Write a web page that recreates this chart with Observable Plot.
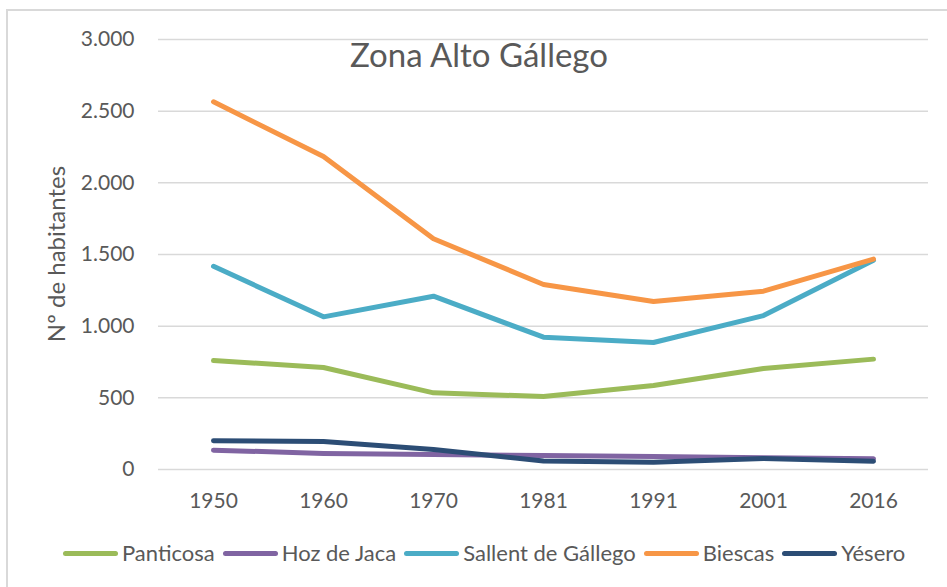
<!DOCTYPE html>
<html>
<head>
<meta charset="utf-8">
<script src="https://cdn.jsdelivr.net/npm/d3@7"></script>
<script src="https://cdn.jsdelivr.net/npm/@observablehq/plot@0.6"></script>
<style>
  html, body { margin: 0; padding: 0; background: #fff; overflow: hidden; }
  #wrap { position: relative; width: 947px; height: 587px; font-family: Lato, "Open Sans", sans-serif; color: #595959; }
  #frame { position: absolute; left: 6px; top: 9px; width: 960px; height: 600px; border-left: 2px solid #d9d9d9; border-top: 2px solid #d9d9d9; box-sizing: border-box; pointer-events: none; }
  #chart { position: absolute; left: 0; top: 0; }
  #title { position: absolute; left: 0; width: 958px; top: 34px; text-align: center; font-size: 33px; line-height: 40px; color: #595959; }
  #ylabel { position: absolute; left: 56px; top: 254px; transform: translate(-50%, -50%) rotate(-90deg); font-size: 24px; line-height: 28px; white-space: nowrap; color: #595959; }
  #legend { position: absolute; left: 63px; top: 540px; display: flex; align-items: center; font-size: 22px; line-height: 26px; color: #595959; white-space: nowrap; }
  .item { display: flex; align-items: center; margin-right: 8px; }
  .sw { width: 55px; height: 5px; border-radius: 3px; margin-right: 4px; }
</style>
</head>
<body>
<div id="wrap">
  <div id="chart"></div>
  <div id="frame"></div>
  <div id="title">Zona Alto Gállego</div>
  <div id="ylabel">Nº de habitantes</div>
  <div id="legend"></div>
</div>
<script>
// ---- data ----
const years = ["1950", "1960", "1970", "1981", "1991", "2001", "2016"];
const seriesNames = ["Panticosa", "Hoz de Jaca", "Sallent de Gállego", "Biescas", "Yésero"];
const panticosa = [760, 712, 535, 509, 586, 705, 770];
const hozDeJaca = [135, 112, 105, 98, 90, 82, 75];
const sallent = [1418, 1065, 1209, 923, 886, 1074, 1460];
const biescas = [2565, 2184, 1610, 1291, 1172, 1244, 1468];
const yesero = [200, 195, 140, 60, 51, 77, 58];
const yTicks = [0, 500, 1000, 1500, 2000, 2500, 3000];
const colors = ["#9BBB59", "#8064A2", "#4BACC6", "#F79646", "#2C4D75"];

const valuesBySeries = [panticosa, hozDeJaca, sallent, biescas, yesero];
const rows = [];
seriesNames.forEach((name, i) => {
  years.forEach((yr, j) => rows.push({ series: name, year: yr, value: valuesBySeries[i][j] }));
});

const fmt = d => d3.format(",")(d).replace(/,/g, ".");

const chart = Plot.plot({
  width: 947,
  height: 530,
  marginTop: 39,
  marginBottom: 61,
  marginLeft: 158,
  marginRight: 19,
  style: { fontFamily: "Lato, 'Open Sans', sans-serif", fontSize: "21px", color: "#595959", background: "transparent" },
  x: { type: "point", domain: years, padding: 0.5 },
  y: { domain: [0, 3000] },
  marks: [
    Plot.gridY(yTicks, { stroke: "#d9d9d9", strokeOpacity: 1, strokeWidth: 1.5 }),
    Plot.axisX({ tickSize: 0, tickPadding: 24, fontSize: 21, label: null }),
    Plot.axisY(yTicks, { tickSize: 0, tickPadding: 24, fontSize: 21, tickFormat: fmt, label: null }),
    ...seriesNames.map((name, i) =>
      Plot.line(rows.filter(r => r.series === name), {
        x: "year", y: "value", stroke: colors[i], strokeWidth: 5,
        strokeLinecap: "round", strokeLinejoin: "round"
      })
    )
  ]
});
document.getElementById("chart").appendChild(chart);

// legend
const legend = document.getElementById("legend");
seriesNames.forEach((name, i) => {
  const item = document.createElement("div");
  item.className = "item";
  const sw = document.createElement("span");
  sw.className = "sw";
  sw.style.background = colors[i];
  const lab = document.createElement("span");
  lab.textContent = name;
  item.appendChild(sw);
  item.appendChild(lab);
  legend.appendChild(item);
});
</script>
</body>
</html>
